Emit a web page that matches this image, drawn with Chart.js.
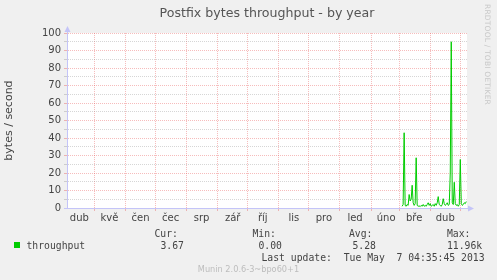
<!DOCTYPE html>
<html>
<head>
<meta charset="utf-8">
<script src="https://cdn.jsdelivr.net/npm/chart.js@4.4.1/dist/chart.umd.min.js"></script>
<style>
  html, body { margin: 0; padding: 0; background: #f0f0f0; }
  #wrap { position: relative; width: 497px; height: 280px; overflow: hidden; }
  #chart { position: absolute; left: 0; top: 0; }
  .t { position: absolute; white-space: pre; font-family: "DejaVu Sans Mono", monospace; font-size: 9.75px; line-height: 12px; color: #444; }
  #swatch { position: absolute; left: 14px; top: 242px; width: 6px; height: 6px; background: #00cc00; }
  #rrd { position: absolute; left: 483px; top: 4px; writing-mode: vertical-rl; font-family: "DejaVu Sans", sans-serif; font-size: 7.5px; color: #c8c8c8; letter-spacing: 0.2px; }
  #munin { position: absolute; left: 0; width: 497px; top: 264px; text-align: center; font-family: "DejaVu Sans", sans-serif; font-size: 8.2px; color: #bdbdbd; }
</style>
</head>
<body>
<div id="wrap">
  <canvas id="chart" width="497" height="280"></canvas>
  <div id="rrd">RRDTOOL / TOBI OETIKER</div>
  <div id="swatch"></div>
  <span class="t" style="left:26.5px; top:240px">throughput</span>
  <span class="t" style="left:154.5px; top:228px">Cur:</span>
  <span class="t" style="left:160.5px; top:240px">3.67</span>
  <span class="t" style="left:252.5px; top:228px">Min:</span>
  <span class="t" style="left:258.5px; top:240px">0.00</span>
  <span class="t" style="left:349px; top:228px">Avg:</span>
  <span class="t" style="left:352.5px; top:240px">5.28</span>
  <span class="t" style="left:447px; top:228px">Max:</span>
  <span class="t" style="left:447px; top:240px">11.96k</span>
  <span class="t" style="left:261.5px; top:252px">Last update:  Tue May  7 04:35:45 2013</span>
  <div id="munin">Munin 2.0.6-3~bpo60+1</div>
</div>
<script>
// x axis counts days from 1 May 2012
const monthLabels = ['dub', 'kvě', 'čen', 'čec', 'srp', 'zář', 'říj', 'lis', 'pro', 'led', 'úno', 'bře', 'dub'];
const monthStarts = [-30, 0, 31, 61, 92, 123, 153, 184, 214, 245, 276, 304, 335, 365];
const xMin = -27.3;
const xMax = 371.7;

// daily throughput (bytes/s), first sample on day 307
const firstDay = 307;
const throughput = [
  1.0, 2.0, 43, 1.5, 1.0, 2.0, 1.5, 7.7, 4.0, 5.0,
  13, 3.0, 1.5, 2.5, 28.7, 1.5, 1.0, 1.2, 0.8, 1.5,
  1.0, 2.0, 1.0, 1.5, 1.0, 2.0, 3.0, 1.5, 2.5, 1.0,
  1.5, 2.0, 1.0, 2.5, 1.5, 3.0, 6.5, 2.0, 1.5, 1.0,
  2.0, 5.3, 2.5, 1.5, 2.0, 3.0, 1.5, 2.0, 20, 95,
  3.0, 2.0, 14.7, 2.5, 1.5, 2.0, 1.0, 2.0, 27.7, 2.5,
  1.5, 2.0, 3.0, 2.5, 3.7
];
const yTicks = [0, 5, 10, 15, 20, 25, 30, 35, 40, 45, 50, 55, 60, 65, 70, 75, 80, 85, 90, 95, 100];

const RED = 'rgba(230, 70, 70, 0.36)';
const GRAY = 'rgba(140, 140, 140, 0.36)';
const AXIS = '#c4c4f8';

const points = throughput.map((v, i) => ({ x: firstDay + i, y: v }));

const boundaries = monthStarts.filter(d => d > xMin && d < xMax);
const labelDays = monthStarts.slice(0, monthLabels.length).map(d => d + 15);
const xTicks = boundaries.concat(labelDays).sort((a, b) => a - b);

const bgPlugin = {
  id: 'bg',
  beforeDraw(chart) {
    const { ctx, chartArea: a } = chart;
    ctx.save();
    ctx.fillStyle = '#ffffff';
    ctx.fillRect(a.left, a.top, a.right - a.left, a.bottom - a.top);
    ctx.restore();
  }
};

// rrdtool style axis arrows
const arrowPlugin = {
  id: 'arrows',
  afterDraw(chart) {
    const { ctx, chartArea: a } = chart;
    ctx.save();
    ctx.strokeStyle = AXIS;
    ctx.fillStyle = AXIS;
    ctx.lineWidth = 1;
    ctx.beginPath();
    ctx.moveTo(a.left + 0.5, a.bottom);
    ctx.lineTo(a.left + 0.5, a.top - 4);
    ctx.moveTo(a.left - 3, a.bottom + 0.5);
    ctx.lineTo(a.right + 2, a.bottom + 0.5);
    ctx.stroke();
    ctx.beginPath();
    ctx.moveTo(a.left + 0.5, a.top - 7);
    ctx.lineTo(a.left - 2.5, a.top - 1);
    ctx.lineTo(a.left + 3.5, a.top - 1);
    ctx.closePath();
    ctx.fill();
    ctx.beginPath();
    ctx.moveTo(a.right + 7, a.bottom + 0.5);
    ctx.lineTo(a.right + 1, a.bottom - 2.5);
    ctx.lineTo(a.right + 1, a.bottom + 3.5);
    ctx.closePath();
    ctx.fill();
    ctx.restore();
  }
};

new Chart(document.getElementById('chart'), {
  type: 'line',
  data: {
    datasets: [{
      label: 'throughput',
      data: points,
      borderColor: '#00cc00',
      borderWidth: 1,
      pointRadius: 0,
      fill: false,
      tension: 0
    }]
  },
  options: {
    responsive: false,
    animation: false,
    devicePixelRatio: 1,
    layout: { padding: { left: 0, right: 30, top: 0, bottom: 52 } },
    plugins: {
      legend: { display: false },
      tooltip: { enabled: false },
      title: {
        display: true,
        fullSize: false,
        text: 'Postfix bytes throughput - by year',
        color: '#555',
        font: { family: 'DejaVu Sans', size: 12.6, weight: 'normal' },
        padding: { top: 6.5, bottom: 11.4 }
      }
    },
    scales: {
      x: {
        type: 'linear',
        min: xMin,
        max: xMax,
        afterBuildTicks: s => { s.ticks = xTicks.map(v => ({ value: v })); },
        afterFit: s => { s.height = 20; },
        ticks: {
          autoSkip: false,
          maxRotation: 0,
          padding: 1,
          color: '#444',
          font: { family: 'DejaVu Sans', size: 10 },
          callback: v => {
            const i = labelDays.indexOf(v);
            return i >= 0 ? monthLabels[i] : '';
          }
        },
        grid: {
          color: c => (c.tick && boundaries.includes(c.tick.value)) ? RED : 'transparent',
          tickLength: 3,
          lineWidth: 1
        },
        border: { color: AXIS, dash: [1, 1] }
      },
      y: {
        min: 0,
        max: 100,
        afterBuildTicks: s => { s.ticks = yTicks.map(v => ({ value: v })); },
        afterFit: s => { s.width = 67; },
        ticks: {
          autoSkip: false,
          padding: 3,
          color: '#444',
          font: { family: 'DejaVu Sans', size: 10 },
          callback: v => (v % 10 === 0 ? String(v) : '')
        },
        grid: {
          color: c => {
            if (!c.tick || c.tick.value === 0) return 'transparent';
            return c.tick.value % 10 === 0 ? RED : GRAY;
          },
          tickLength: 3,
          lineWidth: 1
        },
        border: { color: AXIS, dash: [1, 1] },
        title: {
          display: true,
          text: 'bytes / second',
          color: '#444',
          font: { family: 'DejaVu Sans', size: 11 },
          padding: { top: 3, bottom: 0 }
        }
      }
    }
  },
  plugins: [bgPlugin, arrowPlugin]
});
</script>
</body>
</html>
